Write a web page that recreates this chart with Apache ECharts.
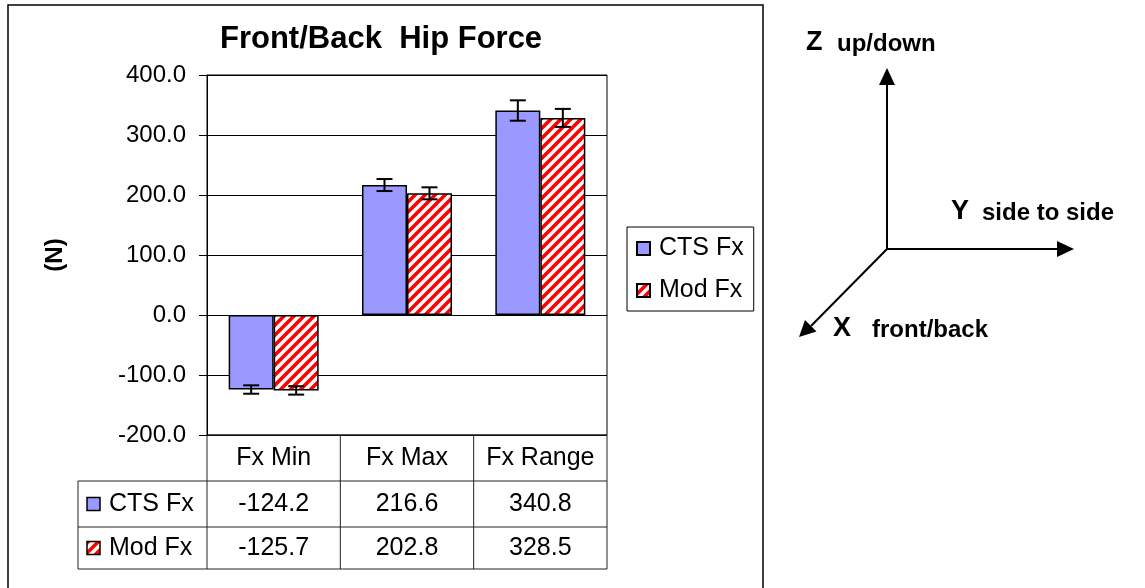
<!DOCTYPE html>
<html>
<head>
<meta charset="utf-8">
<script src="https://cdn.jsdelivr.net/npm/echarts@6/dist/echarts.min.js"></script>
<style>
html, body { margin: 0; padding: 0; background: #fff; }
#main { width: 1145px; height: 588px; }
</style>
</head>
<body>
<div id="main"></div>
<script>
// data
var categories = ['Fx Min', 'Fx Max', 'Fx Range'];
var seriesNames = ['CTS Fx', 'Mod Fx'];
var ctsValues = [-124.2, 216.6, 340.8];
var modValues = [-125.7, 202.8, 328.5];
var ctsErrors = [7, 10, 17];
var modErrors = [7, 10, 15];
var yTicks = [-200, -100, 0, 100, 200, 300, 400];

var font = 'Arial, "Liberation Sans", sans-serif';
var barWidth = 45;

// red / white diagonal stripes for the Mod bars
function makeHatch() {
    var c = document.createElement('canvas');
    c.width = 10;
    c.height = 10;
    var ctx = c.getContext('2d');
    ctx.fillStyle = '#fff';
    ctx.fillRect(0, 0, 10, 10);
    ctx.strokeStyle = '#ff0000';
    ctx.lineWidth = 3.6;
    ctx.beginPath();
    ctx.moveTo(-5, 5); ctx.lineTo(5, -5);
    ctx.moveTo(0, 10); ctx.lineTo(10, 0);
    ctx.moveTo(5, 15); ctx.lineTo(15, 5);
    ctx.stroke();
    return c;
}
var hatch = { image: makeHatch(), repeat: 'repeat' };
var ctsColor = '#9999ff';

function errorSeries(values, errors, idx) {
    return {
        type: 'custom',
        name: seriesNames[idx] + ' error',
        z: 10,
        silent: true,
        data: values.map(function (v, i) { return [i, v, errors[i]]; }),
        renderItem: function (params, api) {
            var i = api.value(0), v = api.value(1), e = api.value(2);
            var hi = api.coord([i, v + e]);
            var lo = api.coord([i, v - e]);
            var x = hi[0] + (idx - 0.5) * barWidth;
            var st = { stroke: '#000', lineWidth: 2 };
            return {
                type: 'group',
                children: [
                    { type: 'line', shape: { x1: x, y1: hi[1], x2: x, y2: lo[1] }, style: st },
                    { type: 'line', shape: { x1: x - 8, y1: hi[1], x2: x + 8, y2: hi[1] }, style: st },
                    { type: 'line', shape: { x1: x - 8, y1: lo[1], x2: x + 8, y2: lo[1] }, style: st }
                ]
            };
        }
    };
}

var chart = echarts.init(document.getElementById('main'));

var option = {
    animation: false,
    backgroundColor: '#fff',
    title: {
        text: 'Front/Back  Hip Force',
        left: 215,
        top: 19,
        textStyle: { fontSize: 31, fontWeight: 'bold', fontFamily: font, color: '#000' }
    },
    legend: {
        data: seriesNames,
        orient: 'vertical',
        left: 627,
        top: 227,
        icon: 'rect',
        itemWidth: 13,
        itemHeight: 13,
        itemGap: 17,
        padding: [9, 10, 8, 9],
        borderColor: '#000',
        borderWidth: 1,
        selectedMode: false,
        textStyle: { fontSize: 25, fontFamily: font, color: '#000', padding: [0, 0, 0, 4] }
    },
    grid: {
        left: 207, top: 75, width: 400, height: 360,
        show: true, borderColor: '#000', borderWidth: 1
    },
    xAxis: {
        type: 'category',
        data: categories,
        axisLine: { onZero: true, lineStyle: { color: '#000', width: 1 } },
        axisTick: { show: false },
        axisLabel: { show: false }
    },
    yAxis: {
        type: 'value',
        min: yTicks[0],
        max: yTicks[yTicks.length - 1],
        interval: 100,
        name: '(N)',
        nameLocation: 'middle',
        nameRotate: 90,
        nameGap: 140,
        nameTextStyle: { fontSize: 24, fontWeight: 'bold', fontFamily: font, color: '#000' },
        axisLine: { show: true, lineStyle: { color: '#000', width: 1 } },
        axisTick: { show: true, length: 8, lineStyle: { color: '#000' } },
        axisLabel: {
            margin: 21,
            fontSize: 24,
            fontFamily: font,
            color: '#000',
            formatter: function (v) { return v.toFixed(1); }
        },
        splitLine: { lineStyle: { color: '#000', width: 1 } }
    },
    series: [
        {
            name: seriesNames[0], type: 'bar', data: ctsValues,
            barWidth: barWidth, barGap: '0%',
            itemStyle: { color: ctsColor, borderColor: '#000', borderWidth: 1.5 }
        },
        {
            name: seriesNames[1], type: 'bar', data: modValues,
            barWidth: barWidth, barGap: '0%',
            itemStyle: { color: hatch, borderColor: '#000', borderWidth: 1.5 }
        },
        errorSeries(ctsValues, ctsErrors, 0),
        errorSeries(modValues, modErrors, 1)
    ]
};
chart.setOption(option);

// data table under the plot, laid out from the axis scales
var gfx = [];
var yb = chart.convertToPixel({ yAxisIndex: 0 }, yTicks[0]);
var c0 = chart.convertToPixel({ xAxisIndex: 0 }, 0);
var band = chart.convertToPixel({ xAxisIndex: 0 }, 1) - c0;
var x0 = c0 - band / 2;
var x3 = x0 + band * categories.length;
var tableLeft = 78;
var rowH = [46, 46, 42];
var rowY = [yb, yb + rowH[0], yb + rowH[0] + rowH[1], yb + rowH[0] + rowH[1] + rowH[2]];
var lineSt = { stroke: '#222', lineWidth: 1 };

function hline(xa, xb, y) {
    gfx.push({ type: 'line', silent: true, shape: { x1: xa, y1: y, x2: xb, y2: y }, style: lineSt });
}
function vline(x, ya, yb2) {
    gfx.push({ type: 'line', silent: true, shape: { x1: x, y1: ya, x2: x, y2: yb2 }, style: lineSt });
}
function txt(s, x, y, size, align, weight) {
    gfx.push({
        type: 'text', silent: true, x: x, y: y,
        style: {
            text: s, fontSize: size, fontFamily: font, fontWeight: weight || 'normal',
            fill: '#000', align: align, verticalAlign: 'middle'
        }
    });
}

hline(x0, x3, rowY[0]);
hline(tableLeft, x3, rowY[1]);
hline(tableLeft, x3, rowY[2]);
hline(tableLeft, x3, rowY[3]);
for (var k = 0; k <= categories.length; k++) vline(x0 + k * band, rowY[0], rowY[3]);
vline(tableLeft, rowY[1], rowY[3]);

categories.forEach(function (c, i) {
    var cx = chart.convertToPixel({ xAxisIndex: 0 }, i);
    txt(c, cx, (rowY[0] + rowY[1]) / 2, 25, 'center');
    txt(ctsValues[i].toFixed(1), cx, (rowY[1] + rowY[2]) / 2, 25, 'center');
    txt(modValues[i].toFixed(1), cx, (rowY[2] + rowY[3]) / 2, 25, 'center');
});
[ctsColor, hatch].forEach(function (fill, r) {
    var cy = (rowY[r + 1] + rowY[r + 2]) / 2;
    gfx.push({
        type: 'rect', silent: true,
        shape: { x: 87, y: cy - 6.5, width: 13, height: 13 },
        style: { fill: fill, stroke: '#000', lineWidth: 1.5 }
    });
    txt(seriesNames[r], 109, cy, 25, 'left');
});

// chart frame
gfx.push({
    type: 'rect', silent: true, z: -1,
    shape: { x: 8, y: 5, width: 755, height: 700 },
    style: { fill: 'transparent', stroke: '#000', lineWidth: 1.5 }
});

// axis direction sketch on the right
var ax = { stroke: '#000', lineWidth: 2 };
gfx.push({ type: 'line', silent: true, shape: { x1: 887, y1: 249, x2: 887, y2: 83 }, style: ax });
gfx.push({ type: 'polygon', silent: true, shape: { points: [[887, 68], [879, 85], [895, 85]] }, style: { fill: '#000' } });
gfx.push({ type: 'line', silent: true, shape: { x1: 887, y1: 249, x2: 1058, y2: 249 }, style: ax });
gfx.push({ type: 'polygon', silent: true, shape: { points: [[1074, 249], [1057, 241], [1057, 257]] }, style: { fill: '#000' } });
gfx.push({ type: 'line', silent: true, shape: { x1: 887, y1: 249, x2: 811, y2: 326 }, style: ax });
gfx.push({ type: 'polygon', silent: true, shape: { points: [[799, 337], [816.5, 331.5], [805, 320]] }, style: { fill: '#000' } });

txt('Z', 806, 43, 27, 'left', 'bold');
txt('up/down', 837, 44.5, 24, 'left', 'bold');
txt('Y', 951, 212, 27, 'left', 'bold');
txt('side to side', 982, 213.5, 24, 'left', 'bold');
txt('X', 833, 328.5, 27, 'left', 'bold');
txt('front/back', 872, 330, 24, 'left', 'bold');

chart.setOption({ graphic: gfx });
</script>
</body>
</html>
